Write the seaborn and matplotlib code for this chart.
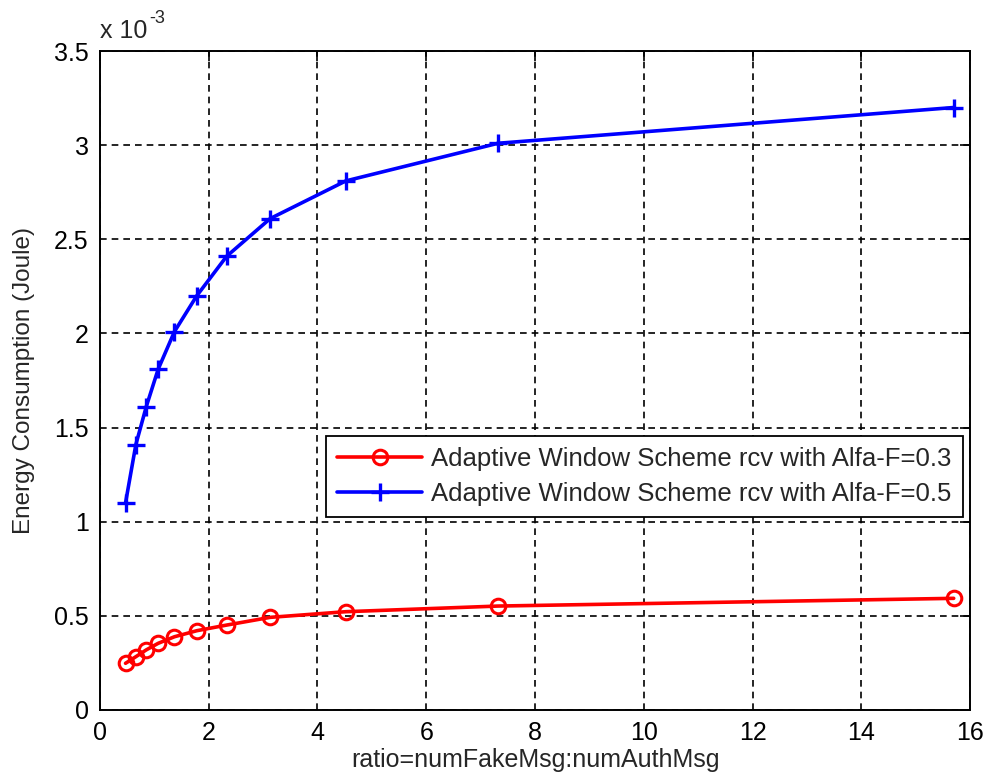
import matplotlib
matplotlib.use("Agg")
import matplotlib.pyplot as plt
import pandas as pd
import seaborn as sns
from matplotlib.ticker import FuncFormatter, MultipleLocator

# ratio of fake to authentic messages
ratio = [0.47, 0.66, 0.85, 1.07, 1.37, 1.78, 2.33, 3.13, 4.52, 7.32, 15.7]
# energy consumption, in units of 1e-3 Joule
energy_alfa03 = [0.248, 0.283, 0.319, 0.354, 0.389, 0.421, 0.451, 0.492, 0.522, 0.552, 0.593]
energy_alfa05 = [1.10, 1.41, 1.61, 1.81, 2.01, 2.20, 2.41, 2.61, 2.81, 3.01, 3.20]
labels = [
    "Adaptive Window Scheme rcv with Alfa-F=0.3",
    "Adaptive Window Scheme rcv with Alfa-F=0.5",
]

sns.set_style("white")
plt.rcParams["font.family"] = ["Liberation Sans", "DejaVu Sans"]

df03 = pd.DataFrame({"ratio": ratio, "energy": energy_alfa03})
df05 = pd.DataFrame({"ratio": ratio, "energy": energy_alfa05})

fig = plt.figure(figsize=(9.85, 7.79), dpi=100)
ax = fig.add_axes([0.1015, 0.0886, 0.8833, 0.8459])

sns.lineplot(data=df03, x="ratio", y="energy", ax=ax, color="red", lw=2.6,
             marker="o", markersize=10.5, markerfacecolor="none",
             markeredgecolor="red", markeredgewidth=2.2, label=labels[0])
sns.lineplot(data=df05, x="ratio", y="energy", ax=ax, color="blue", lw=2.6,
             marker="+", markersize=13, markeredgecolor="blue",
             markeredgewidth=2.4, label=labels[1])

ax.set_xlim(0, 16)
ax.set_ylim(0, 3.5)
ax.xaxis.set_major_locator(MultipleLocator(2))
ax.yaxis.set_major_locator(MultipleLocator(0.5))
ax.yaxis.set_major_formatter(FuncFormatter(lambda v, p: f"{v:g}"))

ax.grid(True, color="black", linestyle=(0, (4, 3)), linewidth=1.2)
for s in ax.spines.values():
    s.set_color("black")
    s.set_linewidth(1.4)
ax.tick_params(direction="in", length=7, width=1.2, top=True, right=True,
               labelsize=18, colors="black", pad=8)

ax.set_xlabel("ratio=numFakeMsg:numAuthMsg", fontsize=18, labelpad=2)
ax.set_ylabel("Energy Consumption (Joule)", fontsize=17.5, labelpad=14)

# exponent label in the top-left corner, MATLAB style
ax.text(0.0, 1.012, "x 10", transform=ax.transAxes, fontsize=18,
        ha="left", va="bottom")
ax.text(0.0565, 1.037, "-3", transform=ax.transAxes, fontsize=13,
        ha="left", va="bottom")

leg = ax.legend(loc="upper right", bbox_to_anchor=(0.992, 0.416), fontsize=18.5,
                frameon=True, fancybox=False, edgecolor="black", framealpha=1,
                handlelength=3.3, handletextpad=0.35, borderpad=0.45,
                labelspacing=0.4, borderaxespad=0)
leg.get_frame().set_linewidth(1.3)

fig.savefig("out.png", dpi=100)
